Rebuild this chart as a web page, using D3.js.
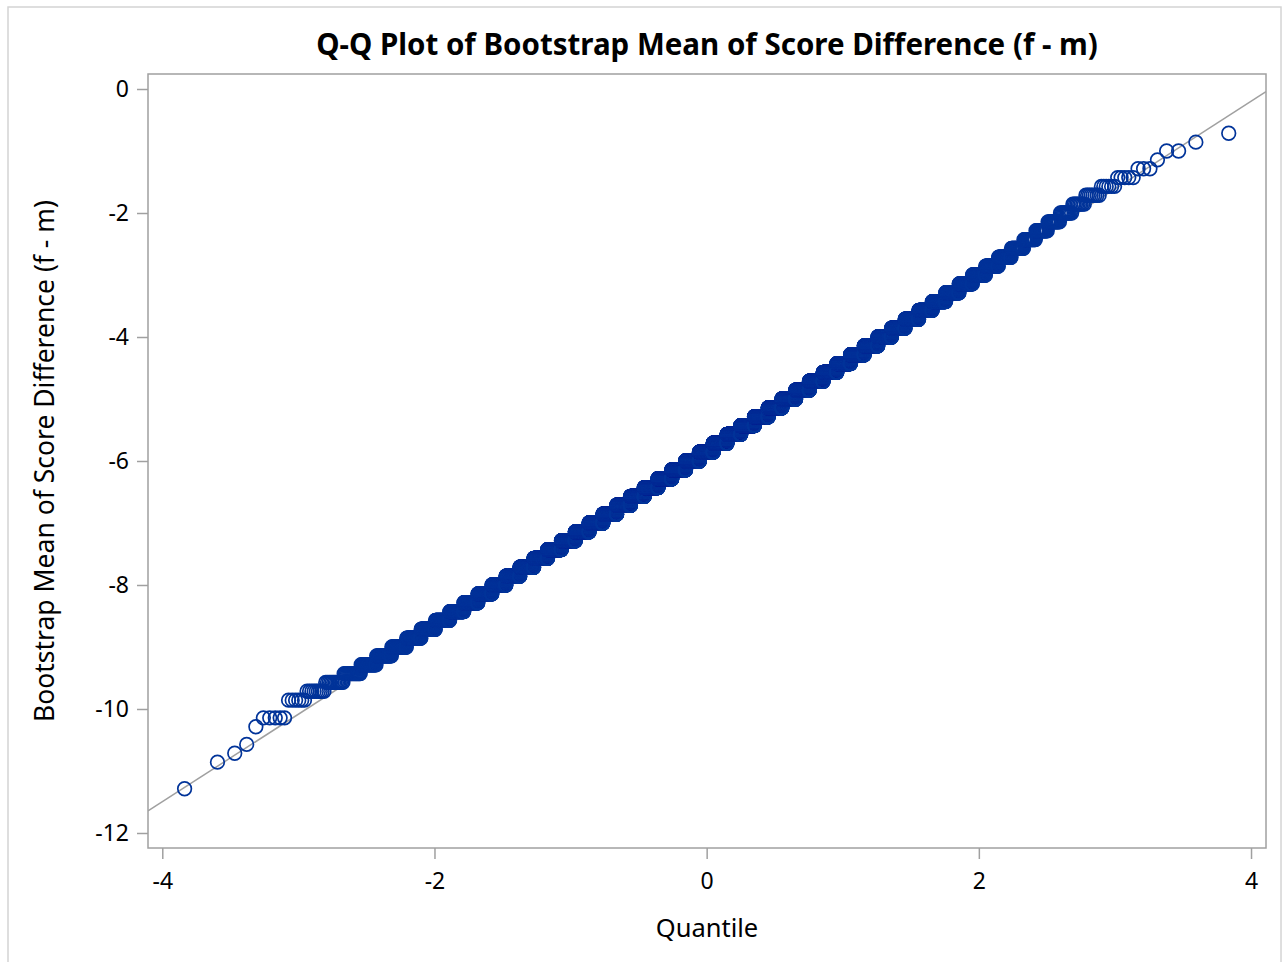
<!DOCTYPE html>
<html>
<head>
<meta charset="utf-8">
<script src="https://cdn.jsdelivr.net/npm/d3@7"></script>
<style>
  body { margin: 0; background: #fff; }
  text { font-family: "Noto Sans", "DejaVu Sans", sans-serif; }
</style>
</head>
<body>
<svg width="1288" height="962"></svg>
<script>
// distinct bootstrap means (f - m), highest to lowest, and how many resamples gave each
var scoreValues = [
  -0.714, -0.857, -1.000, -1.143, -1.286, -1.429, -1.571, -1.714, -1.857, -2.000,
  -2.143, -2.286, -2.429, -2.571, -2.714, -2.857, -3.000, -3.143, -3.286, -3.429,
  -3.571, -3.714, -3.857, -4.000, -4.143, -4.286, -4.429, -4.571, -4.714, -4.857,
  -5.000, -5.143, -5.286, -5.429, -5.571, -5.714, -5.857, -6.000, -6.143, -6.286,
  -6.429, -6.571, -6.714, -6.857, -7.000, -7.143, -7.286, -7.429, -7.571, -7.714,
  -7.857, -8.000, -8.143, -8.286, -8.429, -8.571, -8.714, -8.857, -9.000, -9.143,
  -9.286, -9.429, -9.571, -9.714, -9.857, -10.143, -10.286, -10.571, -10.714, -10.857,
  -11.286
];
var scoreCounts = [
  1, 1, 2, 1, 3, 5, 6, 8, 9, 11,
  14, 17, 21, 27, 34, 42, 52, 64, 77, 92,
  109, 128, 148, 170, 193, 217, 242, 267, 291, 314,
  335, 355, 371, 385, 395, 402, 405, 402, 395, 385,
  371, 355, 335, 314, 291, 267, 242, 217, 193, 170,
  148, 128, 109, 92, 77, 64, 52, 42, 34, 27,
  21, 17, 13, 9, 6, 5, 1, 1, 1, 1,
  1
];
var xTicks = [-4, -2, 0, 2, 4];
var yTicks = [-12, -10, -8, -6, -4, -2, 0];

var plotLeft = 148, plotRight = 1266, plotTop = 74, plotBottom = 848;
var blue = "#003399";
var gray = "#a0a0a0";

// inverse normal cdf (Acklam)
function qnorm(p) {
  var a = [-39.69683028665376, 220.9460984245205, -275.9285104469687, 138.3577518672690, -30.66479806614716, 2.506628277459239];
  var b = [-54.47609879822406, 161.5858368580409, -155.6989798598866, 66.80131188771972, -13.28068155288572];
  var c = [-0.007784894002430293, -0.3223964580411365, -2.400758277161838, -2.549732539343734, 4.374664141464968, 2.938163982698783];
  var d = [0.007784695709041462, 0.3224671290505341, 2.445134137142996, 3.754408661907416];
  var plow = 0.02425, q, r;
  if (p < plow) {
    q = Math.sqrt(-2 * Math.log(p));
    return (((((c[0] * q + c[1]) * q + c[2]) * q + c[3]) * q + c[4]) * q + c[5]) /
      ((((d[0] * q + d[1]) * q + d[2]) * q + d[3]) * q + 1);
  }
  if (p > 1 - plow) {
    q = Math.sqrt(-2 * Math.log(1 - p));
    return -(((((c[0] * q + c[1]) * q + c[2]) * q + c[3]) * q + c[4]) * q + c[5]) /
      ((((d[0] * q + d[1]) * q + d[2]) * q + d[3]) * q + 1);
  }
  q = p - 0.5;
  r = q * q;
  return (((((a[0] * r + a[1]) * r + a[2]) * r + a[3]) * r + a[4]) * r + a[5]) * q /
    (((((b[0] * r + b[1]) * r + b[2]) * r + b[3]) * r + b[4]) * r + 1);
}

// expand to the sorted sample, then Blom positions
var sample = [];
scoreValues.forEach((v, i) => {
  for (let j = 0; j < scoreCounts[i]; j++) sample.push(v);
});
sample.sort(d3.ascending);
var n = sample.length;
var points = sample.map((v, i) => ({ q: qnorm((i + 1 - 0.375) / (n + 0.25)), v: v }));
var mu = d3.mean(sample);
var sigma = d3.deviation(sample);

var x = d3.scaleLinear().domain([-4.105, 4.11]).range([plotLeft, plotRight]);
var y = d3.scaleLinear().domain([-12.242, 0.242]).range([plotBottom, plotTop]);

var svg = d3.select("svg");

svg.append("rect")
  .attr("x", 8).attr("y", 7)
  .attr("width", 1273).attr("height", 970)
  .attr("fill", "none")
  .attr("stroke", "#d4d4d4")
  .attr("stroke-width", 1.5);

svg.append("text")
  .attr("x", (plotLeft + plotRight) / 2)
  .attr("y", 55)
  .attr("text-anchor", "middle")
  .attr("font-size", 29.5)
  .attr("font-weight", "bold")
  .text("Q-Q Plot of Bootstrap Mean of Score Difference (f - m)");

svg.append("clipPath").attr("id", "plotclip")
  .append("rect")
  .attr("x", plotLeft).attr("y", plotTop)
  .attr("width", plotRight - plotLeft).attr("height", plotBottom - plotTop);

var plot = svg.append("g").attr("clip-path", "url(#plotclip)");

// normal reference line, mu and sigma estimated from the sample
var qd = x.domain();
plot.append("line")
  .attr("x1", x(qd[0])).attr("y1", y(mu + sigma * qd[0]))
  .attr("x2", x(qd[1])).attr("y2", y(mu + sigma * qd[1]))
  .attr("stroke", gray)
  .attr("stroke-width", 1.5);

plot.selectAll(".pt")
  .data(points)
  .enter()
  .append("circle")
  .classed("pt", true)
  .attr("cx", (d) => x(d.q))
  .attr("cy", (d) => y(d.v))
  .attr("r", 6.8)
  .attr("fill", "none")
  .attr("stroke", blue)
  .attr("stroke-width", 1.7);

var xAxis = svg.append("g")
  .attr("transform", `translate(0, ${plotBottom})`)
  .call(d3.axisBottom(x).tickValues(xTicks).tickSize(11).tickPadding(14).tickFormat((d) => String(d)));
var yAxis = svg.append("g")
  .attr("transform", `translate(${plotLeft}, 0)`)
  .call(d3.axisLeft(y).tickValues(yTicks).tickSize(11).tickPadding(8).tickFormat((d) => String(d)));

[xAxis, yAxis].forEach((g) => {
  g.select(".domain").remove();
  g.selectAll("line").attr("stroke", gray).attr("stroke-width", 1.5);
  g.selectAll("text")
    .attr("fill", "#000")
    .attr("font-size", 23)
    .style("font-family", "'Noto Sans', 'DejaVu Sans', sans-serif");
});

svg.append("rect")
  .attr("x", plotLeft).attr("y", plotTop)
  .attr("width", plotRight - plotLeft).attr("height", plotBottom - plotTop)
  .attr("fill", "none")
  .attr("stroke", gray)
  .attr("stroke-width", 1.5);

svg.append("text")
  .attr("x", (plotLeft + plotRight) / 2)
  .attr("y", 937)
  .attr("text-anchor", "middle")
  .attr("font-size", 25.5)
  .text("Quantile");

svg.append("text")
  .attr("transform", `translate(54, ${(plotTop + plotBottom) / 2}) rotate(-90)`)
  .attr("text-anchor", "middle")
  .attr("font-size", 26.5)
  .text("Bootstrap Mean of Score Difference (f - m)");
</script>
</body>
</html>
